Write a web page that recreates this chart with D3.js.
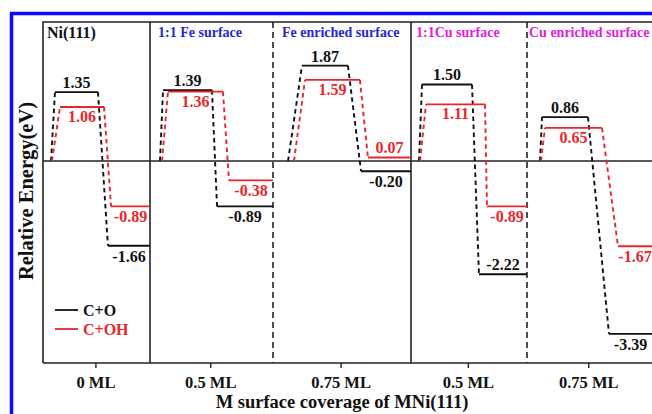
<!DOCTYPE html>
<html><head><meta charset="utf-8">
<script src="https://cdn.jsdelivr.net/npm/d3@7"></script>
<style>html,body{margin:0;padding:0;background:#fff;}svg{display:block;}
svg text{font-family:"Liberation Serif","Times New Roman","DejaVu Serif",serif !important;font-weight:bold;}</style>
</head><body>
<script>
// ---- data ----
const panelTitles = ["Ni(111)", "1:1 Fe surface", "Fe enriched surface", "1:1Cu surface", "Cu enriched surface"];
const tickLabels = ["0 ML", "0.5 ML", "0.75 ML", "0.5 ML", "0.75 ML"];
const tsCO  = [1.35, 1.39, 1.87, 1.50, 0.86];   // transition state, C+O
const tsCOH = [1.06, 1.36, 1.59, 1.11, 0.65];   // transition state, C+OH
const fsCO  = [-1.66, -0.89, -0.20, -2.22, -3.39]; // final state, C+O
const fsCOH = [-0.89, -0.38, 0.07, -0.89, -1.67];  // final state, C+OH
const seriesNames = ["C+O", "C+OH"];

// ---- layout (fractions within each panel) ----
const geom = [
  {sb:0.075, sr:0.084, tb:[0.112,0.514], tr:[0.159,0.570], fb:0.607, fr:0.636},
  {sb:0.081, sr:0.098, tb:[0.106,0.504], tr:[0.146,0.593], fb:0.545, fr:0.642},
  {sb:0.109, sr:0.152, tb:[0.210,0.543], tr:[0.232,0.630], fb:0.638, fr:0.688},
  {sb:0.069, sr:0.078, tb:[0.095,0.526], tr:[0.129,0.638], fb:0.586, fr:0.655},
  {sb:0.104, sr:0.112, tb:[0.120,0.488], tr:[0.144,0.600], fb:0.656, fr:0.728}
];
const fsBlackAbove = [false,false,false,true,false];
const fsRedAbove = [false,false,true,false,false];
const titleColors = ["#111", "#2828cc", "#2828cc", "#e020e0", "#e020e0"];
const titleOffset = [4, 8, 9, 5, 2];
const sepDashed = [false, true, false, true];
const RED = "#e8262b", BLACK = "#111";
const FONT = "Liberation Serif, Times New Roman, DejaVu Serif, serif";

const W = 652, H = 414;
const svg = d3.select("body").append("svg").attr("width", W).attr("height", H)
  .attr("font-family", FONT).attr("font-weight", "bold");

// blue outer border
svg.append("path").attr("d", `M11.5,414 V13.5 H652`).attr("fill","none")
  .attr("stroke","#0a0aff").attr("stroke-width",3.5);

const x = d3.scaleLinear().domain([0,1,2,3,4,5]).range([43,150,273,411,527,652]);
const y = d3.scaleLinear().domain([-3.96, 2.725]).range([363, 22]);

const g = svg.append("g");

// frame
g.append("path").attr("d", `M${x(5)+2},${y.range()[1]} H${x(0)} V${y.range()[0]}`)
  .attr("fill","none").attr("stroke","#222").attr("stroke-width",1.6);

// separators
sepDashed.forEach((d,i)=>{
  g.append("line").attr("x1",x(i+1)).attr("x2",x(i+1)).attr("y1",y.range()[1]).attr("y2",y.range()[0])
   .attr("stroke","#222").attr("stroke-width",1.6).attr("stroke-dasharray", d ? "6,4" : null);
});

// zero line
g.append("line").attr("x1",x(0)).attr("x2",W).attr("y1",y(0)).attr("y2",y(0))
  .attr("stroke","#222").attr("stroke-width",1.5);

// x axis
const xAxis = d3.axisBottom(x).tickValues(d3.range(5).map(i=>i+0.49))
  .tickFormat((d,i)=>tickLabels[i]).tickSize(5).tickPadding(4);
const ax = g.append("g").attr("transform",`translate(0,${y.range()[0]})`).call(xAxis)
  .attr("font-family", FONT).attr("font-size", 16.5);
ax.select(".domain").attr("stroke","#222").attr("stroke-width",1.6).attr("d",`M${x(0)},0H${W}`);
ax.selectAll(".tick line").attr("stroke","#222").attr("stroke-width",1.4);
ax.selectAll(".tick text").attr("fill","#111").attr("dy","0.95em");

// panel titles
panelTitles.forEach((t,i)=>{
  g.append("text").attr("x", x(i)+titleOffset[i]).attr("y", i===0 ? 38 : 37)
    .attr("fill", titleColors[i]).attr("font-size", i===0 ? 16 : 14).text(t);
});

// energy profiles
const series = [
  {ts: tsCO, fs: fsCO, color: BLACK, s: "sb", t: "tb", f: "fb", tsAbove: true, fsAbove: fsBlackAbove},
  {ts: tsCOH, fs: fsCOH, color: RED, s: "sr", t: "tr", f: "fr", tsAbove: false, fsAbove: fsRedAbove}
];
series.forEach(se=>{
  panelTitles.forEach((_,i)=>{
    const gm = geom[i];
    const xs = x(i+gm[se.s]), xt0 = x(i+gm[se.t][0]), xt1 = x(i+gm[se.t][1]);
    const xf0 = x(i+gm[se.f]), xf1 = x(i+1);
    const yt = y(se.ts[i]), yf = y(se.fs[i]), y0 = y(0);
    g.append("path").attr("d",`M${xs},${y0}L${xt0},${yt}M${xt1},${yt}L${xf0},${yf}`)
      .attr("fill","none").attr("stroke",se.color).attr("stroke-width",1.9).attr("stroke-dasharray","4.5,3.5");
    g.append("path").attr("d",`M${xt0},${yt}H${xt1}M${xf0},${yf}H${xf1}`)
      .attr("fill","none").attr("stroke",se.color).attr("stroke-width",1.9);
    g.append("text").attr("x",(xt0+xt1)/2).attr("y", se.tsAbove ? yt-4 : yt+15)
      .attr("text-anchor","middle").attr("fill",se.color).attr("font-size",16)
      .text(se.ts[i].toFixed(2));
    const xfEnd = Math.min(xf1, W);
    g.append("text").attr("x",(xf0+xfEnd)/2).attr("y", se.fsAbove[i] ? yf-4 : yf+16)
      .attr("text-anchor","middle").attr("fill",se.color).attr("font-size",16)
      .text(se.fs[i].toFixed(2));
  });
});

// legend
seriesNames.forEach((n,i)=>{
  const ly = 310 + i*19;
  g.append("line").attr("x1",55).attr("x2",78).attr("y1",ly).attr("y2",ly)
    .attr("stroke", i? RED : BLACK).attr("stroke-width",1.8);
  g.append("text").attr("x",83).attr("y",ly+5.5).attr("fill", i? RED : BLACK)
    .attr("font-size",16).text(n);
});

// axis titles
svg.append("text").attr("x",342).attr("y",408).attr("text-anchor","middle").attr("fill","#111")
  .attr("font-size",18.5).text("M surface coverage of MNi(111)");
svg.append("text").attr("transform","translate(33,191) rotate(-90)").attr("text-anchor","middle")
  .attr("fill","#111").attr("font-size",20.5).text("Relative Energy(eV)");
</script>
</body></html>
